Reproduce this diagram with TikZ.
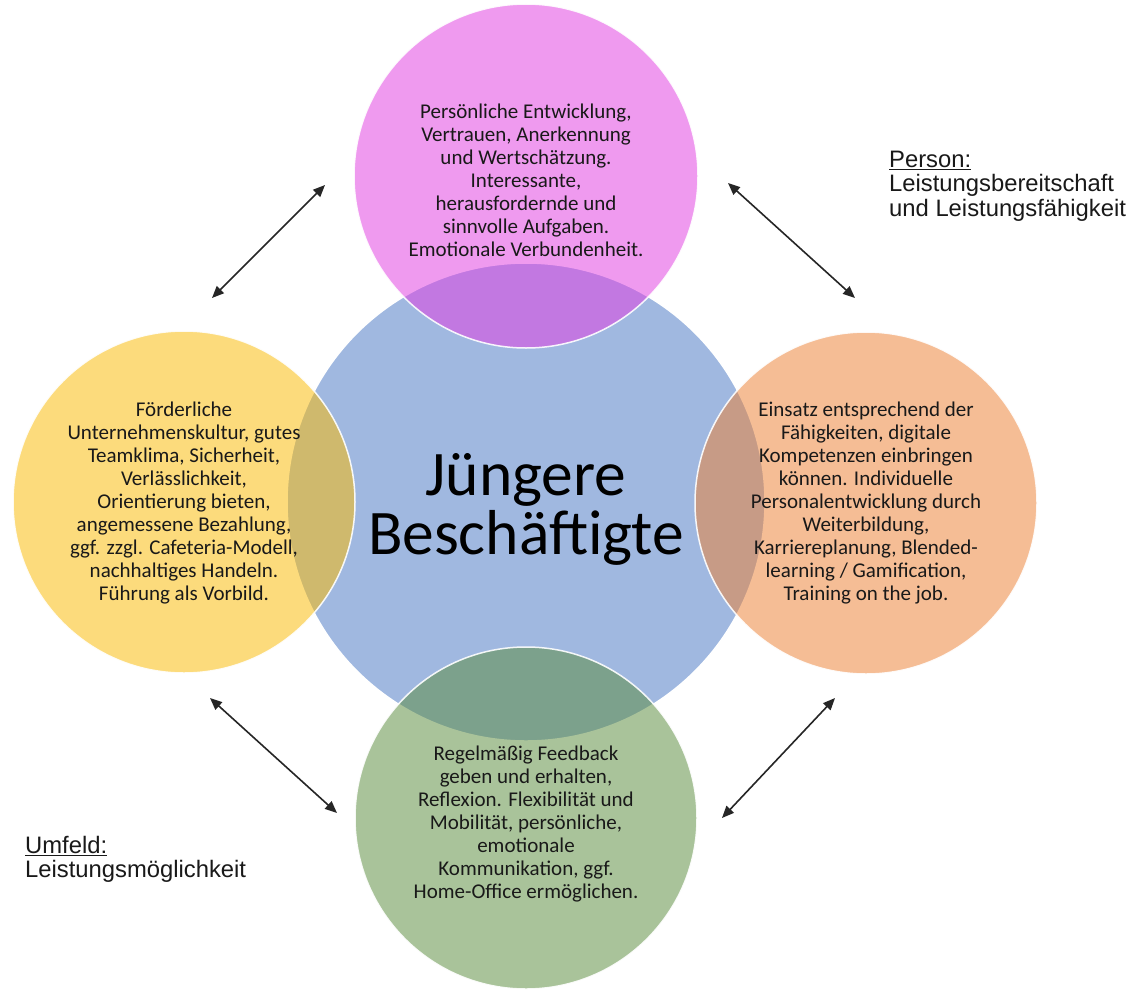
\documentclass[tikz,border=0pt]{standalone}
\usepackage{fontspec}
\setmainfont{Carlito}
\newfontfamily\arialf{Liberation Sans}
\usetikzlibrary{arrows.meta}
\definecolor{cblue}{RGB}{160,184,224}
\definecolor{cpink}{RGB}{226,63,226}
\definecolor{cyellow}{RGB}{251,186,5}
\definecolor{corange}{RGB}{236,130,53}
\definecolor{cgreen}{RGB}{92,140,63}
\definecolor{ctext}{RGB}{25,25,25}
\tikzset{
  outer/.style={circle, draw=white, line width=1.5pt, fill opacity=0.52, draw opacity=0.9,
    minimum size=342pt, inner sep=0pt},
  core/.style={circle, draw=white, line width=1.5pt, fill=cblue, minimum size=478pt,
    inner sep=0pt},
  txt/.style={align=center, inner sep=0pt, font=\fontsize{21}{23}\selectfont, text=ctext},
  bigtxt/.style={align=center, inner sep=0pt, font=\fontsize{63.5}{59}\selectfont, text=black},
  link/.style={{Triangle[length=12pt,width=10pt]}-{Triangle[length=12pt,width=10pt]},
    line width=1.6pt, draw=black!85},
  side/.style={anchor=north west, align=left, font=\arialf\fontsize{23.8}{24.5}\selectfont,
    inner sep=0pt, text=black!90}
}
\begin{document}
\begin{tikzpicture}[x=1pt,y=-1pt]
\useasboundingbox[fill=white] (0,0) rectangle (1131,990);

\node[core] (center) at (526,502) {};
\node[outer, fill=cpink, minimum size=344pt] (top) at (526,176) {};
\node[outer, fill=cyellow] (left) at (184,502) {};
\node[outer, fill=corange] (right) at (866,503) {};
\node[outer, fill=cgreen] (bottom) at (526,818) {};

\node[bigtxt, yshift=-7pt] (centertxt) at (center.center) {Jüngere\\Beschäftigte};

\node[txt, yshift=-4pt] (toptxt) at (top.center) {Persönliche Entwicklung,\\Vertrauen, Anerkennung\\und Wertschätzung.\\Interessante,\\herausfordernde und\\sinnvolle Aufgaben.\\Emotionale Verbundenheit.};

\node[txt, yshift=-1pt] (lefttxt) at (left.center) {Förderliche\\Unternehmenskultur, gutes\\Teamklima, Sicherheit,\\Verlässlichkeit,\\Orientierung bieten,\\angemessene Bezahlung,\\ggf. zzgl. Cafeteria-Modell,\\nachhaltiges Handeln.\\Führung als Vorbild.};

\node[txt] (righttxt) at (right.center) {Einsatz entsprechend der\\Fähigkeiten, digitale\\Kompetenzen einbringen\\können. Individuelle\\Personalentwicklung durch\\Weiterbildung,\\Karriereplanung, Blended-\\learning / Gamification,\\Training on the job.};

\node[txt, yshift=-6pt] (bottomtxt) at (bottom.center) {Regelmäßig Feedback\\geben und erhalten,\\Reflexion. Flexibilität und\\Mobilität, persönliche,\\emotionale\\Kommunikation, ggf.\\Home-Office ermöglichen.};

\node[side] (person) at (889,150.5) {\underline{Person:}\\Leistungsbereitschaft\\und Leistungsfähigkeit};
\node[side] (umfeld) at (25,836) {\underline{Umfeld:}\\Leistungsmöglichkeit};

\coordinate (tl1) at (212,298); \coordinate (tl2) at (325,185);
\coordinate (tr1) at (728,183); \coordinate (tr2) at (855,298);
\coordinate (bl1) at (210,698); \coordinate (bl2) at (337,813);
\coordinate (br1) at (835,698); \coordinate (br2) at (722,818);

\draw[link] (tl1) -- (tl2);
\draw[link] (tr1) -- (tr2);
\draw[link] (bl1) -- (bl2);
\draw[link] (br1) -- (br2);
\end{tikzpicture}
\end{document}
